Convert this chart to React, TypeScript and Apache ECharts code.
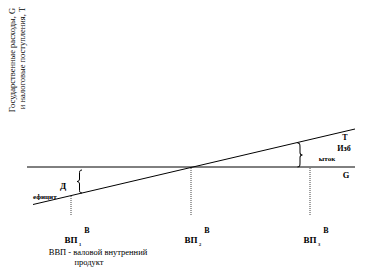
import React, { useEffect, useRef } from "react";
import * as echarts from "echarts";

// Diagram data (abstract units: x = GDP, y = G / T)
const gLevel = 48; // government spending G (constant)
const gSpan = [0, 328]; // x extent of the G line
const taxPoints: [number, number][] = [
  [6, 10.5],
  [328, 86],
]; // tax revenue line T
const gdpLevels = [44, 164, 283]; // ВП1, ВП2, ВП3
const gdpSubs = ["1", "2", "3"];
const guideTops = [19.4, 48, 48]; // top of dotted guides at each GDP level

const yTitle1 = "Государственные расходы, G";
const yTitle2 = "и налоговые поступления, T";
const noteLine1 = "ВВП - валовой внутренний";
const noteLine2 = "продукт";

const SERIF = "serif";

const LEFT_BRACE =
  "M5 0 C2.5 0 2.5 1.5 2.5 4 L2.5 9 C2.5 10.5 1.5 11.5 0 11.5 C1.5 11.5 2.5 12.5 2.5 14 L2.5 19 C2.5 21.5 2.5 23 5 23";
const RIGHT_BRACE =
  "M0 0 C2.5 0 2.5 1.5 2.5 4 L2.5 9 C2.5 10.5 3.5 11.5 5 11.5 C3.5 11.5 2.5 12.5 2.5 14 L2.5 19 C2.5 21.5 2.5 23 0 23";

let registered = false;
function registerShapes() {
  if (registered) return;
  echarts.graphic.registerShape("lbrace", echarts.graphic.extendPath(LEFT_BRACE, {}));
  echarts.graphic.registerShape("rbrace", echarts.graphic.extendPath(RIGHT_BRACE, {}));
  registered = true;
}

export default function App() {
  const ref = useRef<HTMLDivElement>(null);
  useEffect(() => {
    if (!ref.current) return;
    registerShapes();
    const chart = echarts.init(ref.current, null, { renderer: "svg" });

    const series: any[] = [
      {
        type: "line",
        data: [
          [gSpan[0], gLevel],
          [gSpan[1], gLevel],
        ],
        symbol: "none",
        lineStyle: { color: "#000", width: 1 },
        silent: true,
      },
      {
        type: "line",
        data: taxPoints,
        symbol: "none",
        lineStyle: { color: "#000", width: 1 },
        silent: true,
      },
    ];
    gdpLevels.forEach((g, i) => {
      series.push({
        type: "line",
        data: [
          [g, 0],
          [g, guideTops[i]],
        ],
        symbol: "none",
        lineStyle: { color: "#444", width: 1, type: [1, 1] },
        silent: true,
      });
    });

    const txt = (
      x: number,
      y: number,
      text: string,
      size: number,
      bold = true,
      align = "center",
      rotation = 0
    ) => ({
      type: "text",
      x,
      y,
      rotation,
      style: {
        text,
        fontFamily: SERIF,
        fontSize: size,
        fontWeight: bold ? "bold" : "normal",
        fill: "#000",
        align,
        verticalAlign: "middle",
      },
    });

    const braceStyle = { stroke: "#000", fill: "none", lineWidth: 1 };

    const graphic: any[] = [
      txt(12, 60, yTitle1, 8.5, false, "center", Math.PI / 2),
      txt(22, 58, yTitle2, 8.5, false, "center", Math.PI / 2),
      txt(98, 252, noteLine1, 8.5, false),
      txt(89, 262, noteLine2, 8.5, false),
      txt(63, 186, "Д", 9),
      txt(33, 197, "ефицит", 7, true, "left"),
      { type: "lbrace", x: 77, y: 170, style: braceStyle },
      { type: "rbrace", x: 297.5, y: 143, scaleY: 24 / 23, style: braceStyle },
      txt(345, 137, "Т", 8),
      txt(344, 148, "Изб", 8),
      txt(327, 159, "ыток", 7),
      txt(346, 175, "G", 8.5),
    ];

    chart.setOption({
      animation: false,
      grid: { left: 27, right: 15, top: 20, bottom: 52 },
      xAxis: { type: "value", min: 0, max: 328, show: false },
      yAxis: { type: "value", min: 0, max: 195, show: false },
      series,
    });

    // GDP labels positioned from the x scale
    const extra: any[] = [];
    gdpLevels.forEach((g, i) => {
      const px = chart.convertToPixel({ gridIndex: 0 }, [g, 0]) as number[];
      extra.push(txt(px[0] + 16, 230, "В", 8));
      extra.push(txt(px[0], 240, "ВП", 9));
      extra.push(txt(px[0] + 9, 244, gdpSubs[i], 4.5));
    });
    chart.setOption({ graphic: [...graphic, ...extra] });

    return () => chart.dispose();
  }, []);
  return (
    <div
      ref={ref}
      style={{ position: "fixed", left: 0, top: 0, width: 370, height: 267, background: "#fff" }}
    />
  );
}
